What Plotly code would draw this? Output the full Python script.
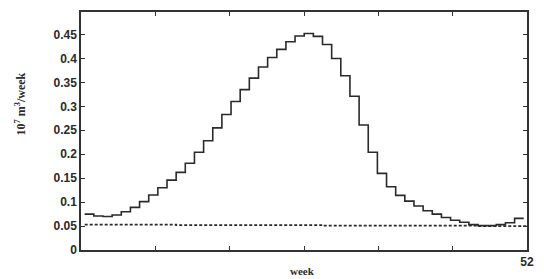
import numpy as np
import plotly.graph_objects as go

# weekly flow (10^7 m^3/week), step series
flow = [0.075, 0.071, 0.070, 0.073, 0.080, 0.089, 0.101, 0.115, 0.130, 0.146,
        0.162, 0.181, 0.204, 0.228, 0.255, 0.283, 0.310, 0.335, 0.359, 0.382,
        0.402, 0.419, 0.435, 0.447, 0.452, 0.446, 0.429, 0.400, 0.364, 0.321,
        0.261, 0.204, 0.160, 0.132, 0.114, 0.102, 0.092, 0.082, 0.075, 0.068,
        0.062, 0.058, 0.053, 0.051, 0.051, 0.053, 0.057, 0.066]
# dashed reference level
base = [0.053, 0.053, 0.053, 0.053, 0.053, 0.053, 0.053, 0.053, 0.053, 0.053,
        0.052, 0.052, 0.052, 0.052, 0.052, 0.052, 0.052, 0.052, 0.052, 0.052,
        0.052, 0.052, 0.052, 0.052, 0.052, 0.052, 0.051, 0.051, 0.051, 0.051,
        0.051, 0.051, 0.051, 0.051, 0.051, 0.051, 0.051, 0.051, 0.051, 0.051,
        0.051, 0.051, 0.051, 0.050, 0.050, 0.050, 0.050, 0.050]
y_ticks = [0, 0.05, 0.1, 0.15, 0.2, 0.25, 0.3, 0.35, 0.4, 0.45]
y_tick_labels = ["0", "0.05", "0.1", "0.15", "0.2", "0.25", "0.3", "0.35", "0.4", "0.45"]
x_max = 52

n = len(flow)
edges = np.linspace(0.43, 51.62, n + 1)
x_base = list(np.concatenate([edges[:-1], [x_max]]))

fig = go.Figure()
fig.add_trace(go.Scatter(
    x=x_base, y=list(base) + [base[-1]],
    mode="lines", line=dict(color="#2a2a2a", width=1.7, dash="3px,2px", shape="hv"),
    hoverinfo="skip", showlegend=False))
fig.add_trace(go.Scatter(
    x=list(edges), y=list(flow) + [flow[-1]],
    mode="lines", line=dict(color="#2a2a2a", width=1.6, shape="hv"),
    hoverinfo="skip", showlegend=False))

tick_font = dict(family="Liberation Sans, Arial, sans-serif", size=12, color="#2a2a2a")
x_tickvals = [k * x_max / 6 for k in range(7)]
x_ticktext = [" "] * 6 + ["<b>52</b>"]

fig.update_layout(
    width=544, height=279,
    margin=dict(l=81, r=13, t=10, b=27),
    paper_bgcolor="white", plot_bgcolor="white",
    xaxis=dict(range=[0, x_max], tickvals=x_tickvals, ticktext=x_ticktext,
               ticks="inside", ticklen=4, tickwidth=1, tickcolor="#333",
               showline=True, linecolor="#333", linewidth=1.5, mirror="ticks",
               showgrid=False, zeroline=False, tickfont=tick_font),
    yaxis=dict(range=[0, 0.497], tickvals=y_ticks,
               ticktext=["<b>" + t + "</b>" for t in y_tick_labels],
               ticks="inside", ticklen=4, tickwidth=1, tickcolor="#333",
               showline=True, linecolor="#333", linewidth=1.5, mirror="ticks",
               showgrid=False, zeroline=False, tickfont=tick_font),
    annotations=[
        dict(text="<b>week</b>", x=0.497, xref="paper", y=-0.055, yref="paper",
             xanchor="center", yanchor="top", showarrow=False,
             font=dict(family="Liberation Serif, Times New Roman, serif", size=11, color="#2a2a2a")),
        dict(text="<b>10<sup>7</sup> m<sup>3</sup>/week</b>", x=-0.135, xref="paper",
             y=0.615, yref="paper", xanchor="center", yanchor="middle",
             showarrow=False, textangle=-90,
             font=dict(family="Liberation Serif, Times New Roman, serif", size=12, color="#2a2a2a")),
    ],
)
fig.write_html("out.html", config={"displayModeBar": False},
               post_script="document.body.style.margin='0';")
